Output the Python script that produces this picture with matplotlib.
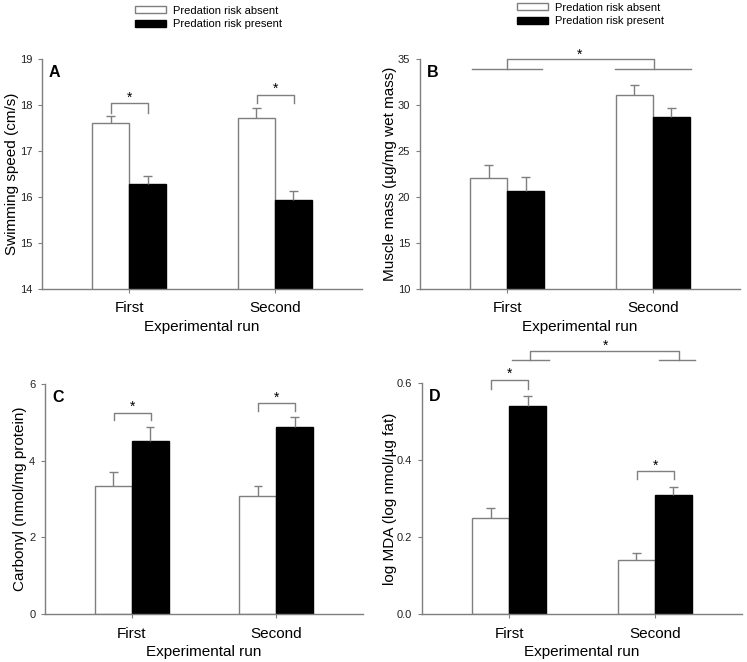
import matplotlib
matplotlib.use("Agg")
import matplotlib.pyplot as plt
from matplotlib.patches import Patch
import numpy as np

plt.rcParams['font.family'] = ['Liberation Sans', 'DejaVu Sans']

categories = ["First", "Second"]
series_labels = ["Predation risk absent", "Predation risk present"]

# Panel A: swimming speed
a_absent = [17.61, 17.72]
a_absent_err = [0.15, 0.22]
a_present = [16.28, 15.93]
a_present_err = [0.18, 0.20]

# Panel B: muscle mass
b_absent = [22.07, 31.1]
b_absent_err = [1.43, 1.1]
b_present = [20.65, 28.7]
b_present_err = [1.55, 1.0]

# Panel C: carbonyl
c_absent = [3.34, 3.08]
c_absent_err = [0.37, 0.26]
c_present = [4.52, 4.88]
c_present_err = [0.36, 0.26]

# Panel D: log MDA
d_absent = [0.25, 0.14]
d_absent_err = [0.026, 0.018]
d_present = [0.54, 0.309]
d_present_err = [0.026, 0.021]

GRAY = '#7f7f7f'
W = 0.255
CAP = 0.03
W_fig, H_fig = 747, 662

fig = plt.figure(figsize=(7.47, 6.62), dpi=100)


def make_ax(left, top, right, bottom):
    return fig.add_axes([left / W_fig, 1 - bottom / H_fig, (right - left) / W_fig, (bottom - top) / H_fig])


def draw(ax, absent, aerr, present, perr, ylim, yticks, yfmt, ylabel, letter, labelx):
    x = np.arange(len(categories))
    ax.bar(x - W / 2, absent, W, color='white', edgecolor=GRAY, linewidth=1.0, zorder=2)
    ax.bar(x + W / 2, present, W, color='black', edgecolor='black', linewidth=1.0, zorder=2)
    for xs, vals, errs in [(x - W / 2, absent, aerr), (x + W / 2, present, perr)]:
        vals = np.asarray(vals)
        tops = vals + np.asarray(errs)
        ax.vlines(xs, vals, tops, color=GRAY, lw=1.0, zorder=3)
        ax.hlines(tops, xs - CAP, xs + CAP, color=GRAY, lw=1.0, zorder=3)
    ax.set_xlim(-0.6, 1.6)
    ax.set_ylim(*ylim)
    ax.set_yticks(yticks)
    ax.set_yticklabels([yfmt.format(v) for v in yticks], fontsize=8, color='#222222')
    ax.set_xticks(x)
    ax.set_xticklabels(categories, fontsize=11)
    ax.tick_params(axis='y', length=3, width=0.8, color=GRAY, pad=4)
    ax.tick_params(axis='x', length=3, width=0.8, color=GRAY, pad=6)
    for s in ['top', 'right']:
        ax.spines[s].set_visible(False)
    for s in ['left', 'bottom']:
        ax.spines[s].set_color(GRAY)
        ax.spines[s].set_linewidth(1.0)
    ax.set_ylabel(ylabel, fontsize=11)
    ax.yaxis.set_label_coords(labelx, 0.5)
    ax.set_xlabel("Experimental run", fontsize=11, labelpad=3)
    ax.text(0.022, 0.94, letter, transform=ax.transAxes, fontsize=11.5, fontweight='bold',
            va='center', ha='left')


def bracket(ax, x0, x1, ytop, ybot, star_off):
    ax.plot([x0, x0, x1, x1], [ybot, ytop, ytop, ybot], color=GRAY, lw=1.0, clip_on=False, zorder=4)
    ax.text((x0 + x1) / 2, ytop + star_off, '*', ha='center', va='bottom', fontsize=10, clip_on=False)


axA = make_ax(42, 59, 362, 289)
axB = make_ax(420, 59, 740, 289)
axC = make_ax(45, 384, 363, 614)
axD = make_ax(422, 383, 742, 614)

draw(axA, a_absent, a_absent_err, a_present, a_present_err, (14, 19), [14, 15, 16, 17, 18, 19], '{:.0f}',
     'Swimming speed (cm/s)', 'A', -0.072)
draw(axB, b_absent, b_absent_err, b_present, b_present_err, (10, 35), [10, 15, 20, 25, 30, 35], '{:.0f}',
     'Muscle mass (µg/mg wet mass)', 'B', -0.072)
draw(axC, c_absent, c_absent_err, c_present, c_present_err, (0, 6), [0, 2, 4, 6], '{:.0f}',
     'Carbonyl (nmol/mg protein)', 'C', -0.057)
draw(axD, d_absent, d_absent_err, d_present, d_present_err, (0, 0.6), [0.0, 0.2, 0.4, 0.6], '{:.1f}',
     'log MDA (log nmol/µg fat)', 'D', -0.078)

# significance brackets
bracket(axA, -0.124, 0.131, 18.04, 17.83, -0.03)
bracket(axA, 0.876, 1.131, 18.22, 18.04, -0.03)
bracket(axC, -0.124, 0.131, 5.25, 5.06, -0.03)
bracket(axC, 0.876, 1.131, 5.50, 5.30, -0.03)
bracket(axD, -0.124, 0.131, 0.608, 0.584, -0.003)
bracket(axD, 0.876, 1.131, 0.371, 0.350, -0.003)

# B main effect bracket
for (x0, x1) in [(-0.24, 0.24), (0.74, 1.26)]:
    axB.plot([x0, x1], [33.9, 33.9], color=GRAY, lw=1.0, clip_on=False)
axB.plot([0, 0, 1.01, 1.01], [33.9, 35.0, 35.0, 33.9], color=GRAY, lw=1.0, clip_on=False)
axB.text(0.5, 34.75, '*', ha='center', va='bottom', fontsize=10, clip_on=False)

# D main effect bracket
for (x0, x1) in [(0.02, 0.27), (1.03, 1.28)]:
    axD.plot([x0, x1], [0.66, 0.66], color=GRAY, lw=1.0, clip_on=False)
axD.plot([0.145, 0.145, 1.17, 1.17], [0.66, 0.683, 0.683, 0.66], color=GRAY, lw=1.0, clip_on=False)
axD.text(0.66, 0.679, '*', ha='center', va='bottom', fontsize=10, clip_on=False)

handles = [Patch(facecolor='white', edgecolor=GRAY, linewidth=1.0),
           Patch(facecolor='black', edgecolor='black', linewidth=1.0)]
for lx, ly in [(127 / W_fig, 1 + 2 / H_fig), (509 / W_fig, 1 + 5 / H_fig)]:
    fig.legend(handles, series_labels, loc='upper left', bbox_to_anchor=(lx, ly),
               frameon=False, fontsize=8, handlelength=2.8, handleheight=0.55,
               handletextpad=0.6, labelspacing=0.3, borderpad=0.2)

fig.savefig('out.png', dpi=100)
